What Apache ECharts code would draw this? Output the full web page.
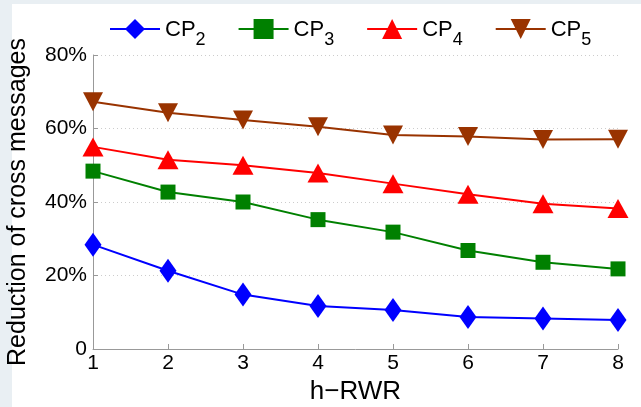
<!DOCTYPE html>
<html><head><meta charset="utf-8">
<script src="https://cdn.jsdelivr.net/npm/echarts@6/dist/echarts.min.js"></script>
<style>html,body{margin:0;padding:0;background:#fff}#c{width:641px;height:407px}</style>
</head><body><div id="c"></div>
<script>
const categories = [1, 2, 3, 4, 5, 6, 7, 8];
const cp2 = [28.4, 21.3, 14.8, 11.7, 10.6, 8.7, 8.3, 7.9];
const cp3 = [48.4, 42.7, 40.0, 35.2, 31.8, 26.8, 23.6, 21.8];
const cp4 = [55.0, 51.5, 50.0, 47.9, 45.0, 42.1, 39.5, 38.2];
const cp5 = [67.3, 64.3, 62.3, 60.5, 58.2, 57.8, 57.0, 57.1];
const yTicks = [0, 20, 40, 60, 80];
const seriesNames = ['CP2', 'CP3', 'CP4', 'CP5'];

const font = 'Liberation Sans';
const chart = echarts.init(document.getElementById('c'));
function mk(name, data, color, symbol, size, rotate) {
  return {
    name, type: 'line', data: categories.map((c, i) => [c, data[i]]),
    symbol, symbolSize: size, symbolRotate: rotate || 0,
    lineStyle: { color, width: 2 }, itemStyle: { color },
    emphasis: { disabled: true }
  };
}
chart.setOption({
  animation: false,
  backgroundColor: '#e9eff3',
  graphic: [{ type: 'rect', z: -10, silent: true, shape: { x: 12, y: 4, width: 629, height: 403 }, style: { fill: '#fff' } }],
  grid: { left: 93, right: 23, top: 55, bottom: 58, outerBoundsMode: 'none', containLabel: false },
  legend: {
    top: 19, left: 109, padding: 0, itemGap: 32, itemWidth: 50, itemHeight: 25,
    data: seriesNames,
    formatter: n => '{c|CP}{s|' + n.slice(2) + '}',
    textStyle: { fontFamily: font, fontSize: 22, color: '#000',
      rich: {
        c: { fontFamily: font, fontSize: 22, color: '#000', lineHeight: 20, verticalAlign: 'top' },
        s: { fontFamily: font, fontSize: 18, color: '#000', lineHeight: 17, verticalAlign: 'top', padding: [12, 0, 0, 0] }
      } }
  },
  xAxis: {
    type: 'value', min: 1, max: 8, interval: 1,
    name: 'h\u2212RWR', nameLocation: 'middle', nameGap: 30,
    nameTextStyle: { fontFamily: font, fontSize: 26, color: '#000' },
    axisLine: { lineStyle: { color: '#999', width: 1 } },
    axisTick: { inside: true, length: 5, lineStyle: { color: '#999' } },
    axisLabel: { fontFamily: font, fontSize: 21, color: '#000', margin: 4 },
    splitLine: { show: false }
  },
  yAxis: {
    type: 'value', min: 0, max: 80, interval: 20,
    name: 'Reduction of cross messages', nameLocation: 'middle', nameGap: 62,
    nameTextStyle: { fontFamily: font, fontSize: 25, color: '#000' },
    axisLine: { show: true, lineStyle: { color: '#999', width: 1 } },
    axisTick: { show: true, inside: true, length: 5, lineStyle: { color: '#999' } },
    axisLabel: { fontFamily: font, fontSize: 21, color: '#000', margin: 6,
      formatter: v => yTicks.includes(v) ? (v === 0 ? '0' : v + '%') : '' },
    splitLine: { show: true, lineStyle: { color: '#ccc', type: [1, 3], width: 1 } }
  },
  series: [
    mk('CP2', cp2, '#0000ff', 'diamond', [17, 24]),
    mk('CP3', cp3, '#008000', 'rect', 15),
    mk('CP4', cp4, '#ff0000', 'triangle', [21, 19]),
    mk('CP5', cp5, '#993300', 'triangle', [20, 19], 180)
  ]
});
</script></body></html>
